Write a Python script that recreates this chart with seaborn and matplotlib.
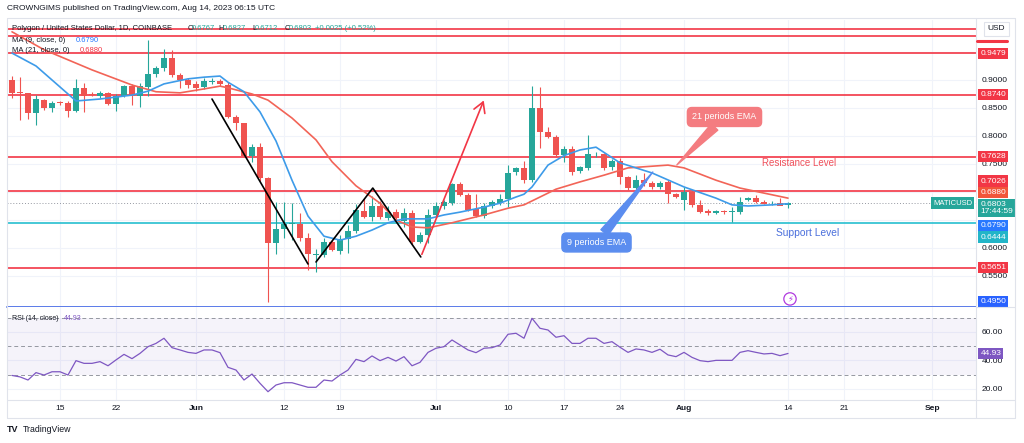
import numpy as np
import pandas as pd
import matplotlib
matplotlib.use("Agg")
import matplotlib.pyplot as plt
import matplotlib.dates as mdates
from matplotlib.lines import Line2D
import seaborn as sns

# MATIC/USD daily candles, 9 May - 14 Aug 2023
dates = pd.date_range("2023-05-09", "2023-08-14", freq="D")

opens = [0.900, 0.878, 0.876, 0.8405, 0.8643, 0.8494, 0.860, 0.858, 0.8446, 0.886,
         0.8744, 0.8714, 0.8774, 0.857, 0.8714, 0.889, 0.8714, 0.888, 0.910, 0.921,
         0.940, 0.909, 0.900, 0.892, 0.888, 0.897, 0.899, 0.891, 0.8345, 0.8226,
         0.764, 0.781, 0.7245, 0.6084, 0.6333, 0.6429, 0.643, 0.6173, 0.5875, 0.5875,
         0.6113, 0.5952, 0.6155, 0.631, 0.6667, 0.655, 0.6756, 0.653, 0.665, 0.648,
         0.662, 0.6113, 0.623, 0.659, 0.6756, 0.680, 0.7143, 0.6946, 0.669, 0.6577,
         0.6756, 0.6798, 0.6875, 0.7351, 0.7423, 0.7214, 0.8494, 0.8077, 0.7988, 0.766,
         0.776, 0.738, 0.7434, 0.767, 0.7679, 0.744, 0.756, 0.7274, 0.7066, 0.7214,
         0.7155, 0.7084, 0.7185, 0.6964, 0.6857, 0.7006, 0.6768, 0.6661, 0.6631, 0.6655,
         0.665, 0.665, 0.6857, 0.6887, 0.6827, 0.6795, 0.681, 0.6767]
highs = [0.907, 0.906, 0.876, 0.873, 0.866, 0.862, 0.863, 0.862, 0.901, 0.894,
         0.878, 0.880, 0.879, 0.875, 0.891, 0.893, 0.895, 0.9714, 0.925, 0.955,
         0.953, 0.913, 0.903, 0.898, 0.903, 0.903, 0.902, 0.896, 0.838, 0.8226,
         0.786, 0.787, 0.727, 0.6827, 0.6827, 0.681, 0.662, 0.626, 0.599, 0.6184,
         0.614, 0.623, 0.6417, 0.679, 0.690, 0.693, 0.684, 0.675, 0.670, 0.671,
         0.667, 0.628, 0.669, 0.682, 0.685, 0.716, 0.718, 0.699, 0.696, 0.680,
         0.685, 0.697, 0.748, 0.745, 0.756, 0.889, 0.888, 0.816, 0.801, 0.782,
         0.782, 0.747, 0.802, 0.771, 0.770, 0.759, 0.761, 0.729, 0.730, 0.734,
         0.719, 0.720, 0.721, 0.699, 0.709, 0.703, 0.685, 0.670, 0.668, 0.668,
         0.673, 0.691, 0.691, 0.694, 0.686, 0.683, 0.690, 0.6827]
lows = [0.868, 0.829, 0.830, 0.820, 0.846, 0.842, 0.856, 0.8345, 0.843, 0.843,
        0.871, 0.867, 0.855, 0.8446, 0.869, 0.855, 0.851, 0.871, 0.905, 0.916,
        0.905, 0.885, 0.885, 0.880, 0.884, 0.893, 0.889, 0.832, 0.810, 0.762,
        0.754, 0.720, 0.504, 0.590, 0.618, 0.615, 0.6125, 0.5607, 0.5577, 0.583,
        0.595, 0.589, 0.591, 0.626, 0.654, 0.649, 0.651, 0.650, 0.650, 0.638,
        0.607, 0.609, 0.6084, 0.654, 0.670, 0.677, 0.692, 0.666, 0.655, 0.653,
        0.672, 0.676, 0.673, 0.730, 0.716, 0.718, 0.778, 0.796, 0.763, 0.753,
        0.731, 0.733, 0.739, 0.762, 0.740, 0.739, 0.714, 0.704, 0.700, 0.710,
        0.705, 0.705, 0.681, 0.690, 0.667, 0.673, 0.662, 0.658, 0.661, 0.661,
        0.647, 0.661, 0.683, 0.681, 0.678, 0.677, 0.676, 0.6712]
closes = [0.877, 0.876, 0.8405, 0.8655, 0.8494, 0.8584, 0.859, 0.8446, 0.8863, 0.8714,
          0.8740, 0.8774, 0.857, 0.8714, 0.8893, 0.8714, 0.8893, 0.910, 0.921, 0.940,
          0.909, 0.900, 0.891, 0.885, 0.899, 0.8975, 0.892, 0.8345, 0.8226, 0.764,
          0.781, 0.7245, 0.6095, 0.6333, 0.6429, 0.644, 0.6173, 0.5893, 0.5885, 0.6113,
          0.5964, 0.6155, 0.631, 0.668, 0.655, 0.6756, 0.656, 0.665, 0.653, 0.662,
          0.6113, 0.623, 0.659, 0.6756, 0.6816, 0.7143, 0.6946, 0.6679, 0.6577, 0.6756,
          0.6816, 0.6875, 0.7333, 0.7423, 0.7214, 0.8494, 0.8077, 0.7988, 0.766, 0.776,
          0.7363, 0.744, 0.7679, 0.768, 0.7423, 0.756, 0.7274, 0.7066, 0.7214, 0.7155,
          0.7084, 0.7167, 0.6964, 0.6917, 0.7006, 0.6768, 0.6649, 0.662, 0.666, 0.665,
          0.6655, 0.6827, 0.6887, 0.6827, 0.6786, 0.6805, 0.6756, 0.6803]

# RSI(14) per day
rsi = [29.5, 28.5, 26.3, 31.5, 29.8, 32.1, 32.1, 29.8, 39.9, 38.0,
       38.0, 39.2, 36.3, 40.4, 44.3, 41.3, 45.0, 49.7, 52.0, 55.6,
       49.0, 47.4, 45.7, 45.0, 47.4, 47.4, 45.5, 35.2, 33.3, 26.3,
       30.5, 24.0, 18.1, 22.8, 24.4, 24.4, 22.8, 21.2, 21.2, 26.3,
       25.6, 29.8, 33.3, 40.8, 39.2, 43.2, 39.9, 42.2, 39.6, 42.7,
       36.3, 38.7, 45.7, 48.6, 49.7, 54.4, 50.9, 47.4, 45.5, 48.6,
       49.0, 50.9, 58.4, 59.1, 55.6, 69.6, 62.6, 61.4, 56.3, 57.4,
       52.0, 52.0, 55.6, 55.6, 52.0, 53.2, 49.3, 45.7, 48.1, 47.4,
       45.7, 47.9, 43.9, 42.7, 45.7, 42.2, 39.9, 39.2, 40.1, 40.1,
       40.1, 45.7, 46.9, 45.7, 44.6, 45.0, 43.4, 44.93]

# moving averages sampled along the drawn lines
ema9_dates = ["05-09", "05-12", "05-15", "05-17", "05-20", "05-24", "05-26", "05-28",
              "05-31", "06-02", "06-04", "06-05", "06-07", "06-09", "06-11", "06-13",
              "06-15", "06-17", "06-19", "06-21", "06-23", "06-25", "06-27", "06-30",
              "07-02", "07-04", "07-07", "07-09", "07-11", "07-12", "07-13", "07-15",
              "07-17", "07-19", "07-21", "07-24", "07-28", "08-01", "08-05", "08-07",
              "08-09", "08-12", "08-14"]
ema9_vals = [0.948, 0.925, 0.8875, 0.8625, 0.866, 0.873, 0.880, 0.893,
             0.902, 0.905, 0.907, 0.896, 0.879, 0.843, 0.791, 0.721,
             0.657, 0.621, 0.614, 0.621, 0.632, 0.645, 0.652, 0.652,
             0.659, 0.664, 0.673, 0.680, 0.691, 0.696, 0.709, 0.748,
             0.765, 0.775, 0.780, 0.752, 0.734, 0.709, 0.689, 0.677,
             0.675, 0.677, 0.679]
ema21_dates = ["05-09", "05-13", "05-19", "05-24", "05-27", "05-30", "06-02", "06-04",
               "06-05", "06-08", "06-10", "06-13", "06-16", "06-18", "06-21", "06-24",
               "06-26", "06-28", "06-30", "07-03", "07-07", "07-10", "07-12", "07-14",
               "07-16", "07-19", "07-22", "07-25", "07-28", "07-30", "08-01", "08-05",
               "08-08", "08-11", "08-14"]
ema21_vals = [0.986, 0.954, 0.918, 0.891, 0.879, 0.877, 0.884, 0.889,
              0.886, 0.875, 0.864, 0.832, 0.793, 0.754, 0.711, 0.680,
              0.650, 0.6375, 0.636, 0.645, 0.659, 0.671, 0.677, 0.691,
              0.705, 0.718, 0.730, 0.743, 0.746, 0.748, 0.743, 0.721,
              0.707, 0.698, 0.689]

red_levels = [0.991, 0.979, 0.9479, 0.8740, 0.7628, 0.7026, 0.5651]
support_level = 0.6444
bottom_level = 0.4950
last_price = 0.6803

price_ticks = [0.55, 0.60, 0.65, 0.70, 0.75, 0.80, 0.85, 0.90, 0.95]
price_tick_labels = ["0.5500", "0.6000", "", "", "0.7500", "0.8000", "0.8500", "0.9000", ""]

tick_dates = ["2023-05-15", "2023-05-22", "2023-06-01", "2023-06-12", "2023-06-19",
              "2023-07-01", "2023-07-10", "2023-07-17", "2023-07-24", "2023-08-01",
              "2023-08-14", "2023-08-21", "2023-09-01"]
tick_labels = ["15", "22", "Jun", "12", "19", "Jul", "10", "17", "24", "Aug", "14", "21", "Sep"]

GREEN = "#26a69a"
RED = "#ef5350"
LINE_RED = "#f23645"
GRID = "#f0f3fa"
TXT = "#131722"

sns.set_theme(style="white")
plt.rcParams["font.family"] = ["Liberation Sans", "DejaVu Sans"]

W, H = 1024, 443
fig = plt.figure(figsize=(W / 100, H / 100), dpi=100)
fig.patch.set_facecolor("white")


def rect(l, t, r, b):
    return [l / W, 1 - b / H, (r - l) / W, (b - t) / H]


ax = fig.add_axes(rect(7, 20, 976, 307))
axr = fig.add_axes(rect(7, 307, 976, 400), sharex=ax)

t0 = dates[0]


def day(d):
    return mdates.date2num(t0 + pd.Timedelta(days=d))


# candles
o = np.array(opens)
c = np.array(closes)
cols = np.where(c >= o, GREEN, RED)
ax.vlines(dates, lows, highs, colors=cols, lw=0.8, zorder=3)
ax.bar(dates, np.maximum(np.abs(c - o), 0.0012), bottom=np.minimum(o, c),
       width=0.68, color=cols, linewidth=0, zorder=4)

# EMAs
sns.lineplot(x=pd.to_datetime(["2023-" + d for d in ema21_dates]), y=ema21_vals,
             ax=ax, color="#f26457", lw=1.2, zorder=5)
sns.lineplot(x=pd.to_datetime(["2023-" + d for d in ema9_dates]), y=ema9_vals,
             ax=ax, color="#3d9be9", lw=1.2, zorder=6)

# horizontal levels
for lv in red_levels:
    ax.axhline(lv, color=LINE_RED, lw=1.2, zorder=2)
ax.axhline(support_level, color="#26bfd0", lw=1.2, zorder=2)
ax.axhline(bottom_level, color="#5b7be9", lw=1.4, zorder=2, clip_on=False)
ax.axhline(last_price, color="#9598a1", lw=0.7, ls=(0, (1, 2)), zorder=2)

# pattern drawings
ax.plot([day(25), day(37)], [0.866, 0.5714], color="black", lw=1.2, zorder=7)
ax.plot([day(38), day(45.1), day(51.1)], [0.575, 0.707, 0.584], color="black", lw=1.2, zorder=7)
ax.annotate("", xy=(day(59.1), 0.868), xytext=(day(51.1), 0.584),
            arrowprops=dict(arrowstyle="->,head_length=0.6,head_width=0.35",
                            color=LINE_RED, lw=1.2), zorder=7)

# callouts
ax.annotate("21 periods EMA", xy=(day(83.1), 0.7482), xytext=(day(89.06), 0.8339),
            ha="center", va="center", color="white", fontsize=6.5, zorder=9,
            bbox=dict(boxstyle="round,pad=0.55,rounding_size=0.5", fc="#f47c80", ec="#f47c80"),
            arrowprops=dict(arrowstyle="wedge,tail_width=1.0", fc="#f47c80", ec="#f47c80",
                            shrinkA=0, shrinkB=0))
ax.annotate("9 periods EMA", xy=(day(80.1), 0.7357), xytext=(day(73.06), 0.6098),
            ha="center", va="center", color="white", fontsize=6.5, zorder=9,
            bbox=dict(boxstyle="round,pad=0.55,rounding_size=0.5", fc="#5b8def", ec="#5b8def"),
            arrowprops=dict(arrowstyle="wedge,tail_width=1.0", fc="#5b8def", ec="#5b8def",
                            shrinkA=0, shrinkB=0))
ax.text(day(98.4), 0.7523, "Resistance Level", color="#f0505a", fontsize=7,
        ha="center", va="center", zorder=9)
ax.text(day(99.5), 0.6268, "Support Level", color="#4a6fdc", fontsize=7.4,
        ha="center", va="center", zorder=9)
ax.text(day(97.25), 0.509, "\u26a1", color="#b03adf", fontsize=6, ha="center", va="center",
        family=["DejaVu Sans"], zorder=9,
        bbox=dict(boxstyle="circle,pad=0.2", fc="white", ec="#b03adf", lw=0.9))
ax.text(0.9959, last_price, "MATICUSD", transform=ax.get_yaxis_transform(), ha="right",
        va="center", fontsize=5.5, color="white", zorder=9,
        bbox=dict(boxstyle="square,pad=0.3", fc=GREEN, ec="none"))

# axes ranges and ticks
ax.set_xlim(day(-0.625), day(120.5))
ax.set_ylim(0.4946, 1.0071)
axr.set_ylim(12.28, 77.54)

ax.yaxis.tick_right()
ax.set_yticks(price_ticks)
ax.set_yticklabels(price_tick_labels)
ax.tick_params(axis="y", length=0, pad=4, labelsize=6, labelcolor=TXT)
ax.tick_params(axis="x", length=0, labelbottom=False)

axr.yaxis.tick_right()
axr.set_yticks([20, 40, 60])
axr.set_yticklabels(["20.00", "40.00", "60.00"])
axr.tick_params(axis="y", length=0, pad=4, labelsize=6, labelcolor=TXT)
axr.set_xticks(pd.to_datetime(tick_dates))
axr.set_xticklabels(tick_labels)
axr.tick_params(axis="x", length=0, pad=3.5, labelsize=6, labelcolor=TXT)
for lab in axr.get_xticklabels():
    if lab.get_text().isalpha():
        lab.set_fontweight("bold")

for a in (ax, axr):
    a.grid(True, color=GRID, lw=0.8)
    a.set_axisbelow(True)
    a.set_xlabel("")
    a.set_ylabel("")
    for s in a.spines.values():
        s.set_visible(False)
    a.set_facecolor("white")
    a.set_zorder(1)

# price tags on the scale
tags = [("0.9479", LINE_RED, 0.9479), ("0.8740", LINE_RED, 0.8740),
        ("0.7628", LINE_RED, 0.7628), ("0.7026", LINE_RED, 0.7196),
        ("0.6880", "#f2553a", 0.6995), ("0.6803\n17:44:59", GREEN, 0.6720),
        ("0.6790", "#2979ff", 0.6405), ("0.6444", "#22b5c8", 0.6195),
        ("0.5651", LINE_RED, 0.5651), ("0.4950", "#2962ff", 0.5040)]
for txt, fc, ypos in tags:
    ax.text(1.0045, ypos, txt, transform=ax.get_yaxis_transform(), ha="left", va="center",
            fontsize=6, color="white", linespacing=1.0, zorder=10,
            bbox=dict(boxstyle="square,pad=0.25", fc=fc, ec="none"))

# RSI panel
axr.axhspan(30, 70, color="#7e57c2", alpha=0.07, lw=0)
for lv in (70, 50, 30):
    axr.axhline(lv, color="#9598a1", lw=0.7, ls=(0, (4, 3)))
sns.lineplot(x=dates, y=rsi, ax=axr, color="#7e57c2", lw=0.9)
axr.set_xlabel("")
axr.set_ylabel("")
axr.text(1.0045, 44.93, "44.93", transform=axr.get_yaxis_transform(), ha="left", va="center",
         fontsize=6, color="white", zorder=10,
         bbox=dict(boxstyle="square,pad=0.25", fc="#7e57c2", ec="none"))

# frame lines
def hline(x0, x1, y, color="#e0e3eb", lw=0.8):
    fig.add_artist(Line2D([x0 / W, x1 / W], [1 - y / H, 1 - y / H], color=color, lw=lw))


def vline(x, y0, y1, color="#e0e3eb", lw=0.8):
    fig.add_artist(Line2D([x / W, x / W], [1 - y0 / H, 1 - y1 / H], color=color, lw=lw))


hline(7, 1015, 18)
hline(7, 1015, 400)
hline(7, 1015, 418)
hline(976, 1015, 307)
vline(7, 18, 418)
vline(976, 18, 418)
vline(1015, 18, 418)
hline(977, 1007, 41, color=LINE_RED, lw=2.2)

# header, legend, footer
fig.text(7 / W, 1 - 9 / H, "CROWNGIMS published on TradingView.com, Aug 14, 2023 06:15 UTC",
         fontsize=6, color=TXT, va="center")
fig.text(996 / W, 1 - 29 / H, "USD", fontsize=6, color=TXT, ha="center", va="center",
         bbox=dict(boxstyle="square,pad=0.45", fc="white", ec="#e0e3eb", lw=0.8))

leg = [(12, "Polygon / United States Dollar, 1D, COINBASE", TXT),
       (188, "O", TXT), (192, "0.6767", GREEN), (218, "H", TXT), (223, "0.6827", GREEN),
       (252, "L", TXT), (255, "0.6712", GREEN), (285, "C", TXT), (289, "0.6803", GREEN),
       (315, "+0.0025 (+0.52%)", GREEN)]
for x, s, col in leg:
    fig.text(x / W, 1 - 28 / H, s, fontsize=5.5, color=col, va="center", zorder=20)
fig.text(12 / W, 1 - 40 / H, "MA (9, close, 0)", fontsize=5.5, color=TXT, va="center")
fig.text(76 / W, 1 - 40 / H, "0.6790", fontsize=5.5, color="#2979ff", va="center")
fig.text(12 / W, 1 - 51 / H, "MA (21, close, 0)", fontsize=5.5, color=TXT, va="center")
fig.text(80 / W, 1 - 51 / H, "0.6880", fontsize=5.5, color=LINE_RED, va="center")
fig.text(12 / W, 1 - 318 / H, "RSI (14, close)", fontsize=5, color=TXT, va="center")
fig.text(64 / W, 1 - 318 / H, "44.93", fontsize=5, color="#7e57c2", va="center")

fig.text(7 / W, 1 - 430 / H, "TV", fontsize=6.5, weight="heavy", color=TXT, va="center")
fig.text(23 / W, 1 - 430 / H, "TradingView", fontsize=6.3, color=TXT, va="center")

fig.savefig("out.png", dpi=100, facecolor="white")
